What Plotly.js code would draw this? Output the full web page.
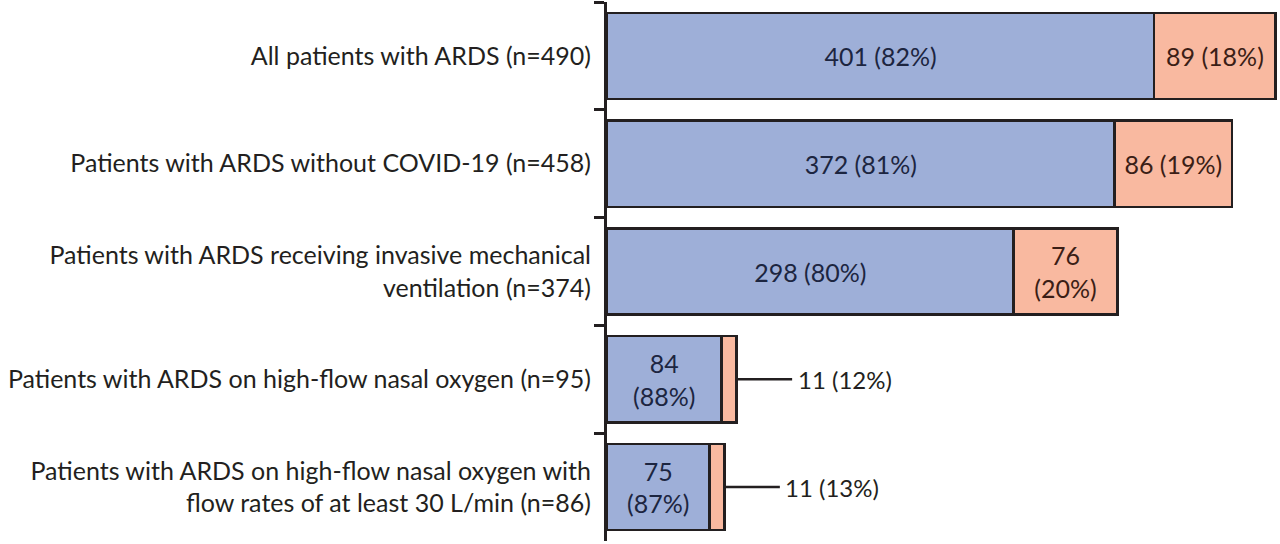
<!DOCTYPE html>
<html>
<head>
<meta charset="utf-8">
<script src="https://cdn.plot.ly/plotly-3.0.1.min.js"></script>
<style>
  html, body { margin: 0; padding: 0; background: #fff; }
  #myDiv { width: 1280px; height: 544px; }
</style>
</head>
<body>
<div id="myDiv"></div>
<script>
var groups = [
  'All patients with ARDS (n=490)',
  'Patients with ARDS without COVID-19 (n=458)',
  'Patients with ARDS receiving invasive mechanical<br>ventilation (n=374)',
  'Patients with ARDS on high-flow nasal oxygen (n=95)',
  'Patients with ARDS on high-flow nasal oxygen with<br>flow rates of at least 30 L/min (n=86)'
];
var countA = [401, 372, 298, 84, 75];
var pctA = [82, 81, 80, 88, 87];
var countB = [89, 86, 76, 11, 11];
var pctB = [18, 19, 20, 12, 13];

// labels: narrow bars get two lines, tiny ones go outside with a leader
var textA = countA.map(function (c, i) {
  return c + (c < 150 ? '<br>' : ' ') + '(' + pctA[i] + '%)';
});
var textB = countB.map(function (c, i) {
  if (c < 30) return '';
  return c + (c < 80 ? '<br>' : ' ') + '(' + pctB[i] + '%)';
});

var trace1 = {
  type: 'bar',
  orientation: 'h',
  y: groups,
  x: countA,
  text: textA,
  textposition: 'inside',
  insidetextanchor: 'middle',
  textangle: 0,
  insidetextfont: {size: 25, color: '#1c2540', family: 'Lato, sans-serif'},
  marker: {color: '#9eafd8', line: {color: '#231f20', width: 2.5}},
  hoverinfo: 'none'
};

var trace2 = {
  type: 'bar',
  orientation: 'h',
  y: groups,
  x: countB,
  text: textB,
  textposition: 'inside',
  insidetextanchor: 'middle',
  textangle: 0,
  insidetextfont: {size: 25, color: '#3b1e16', family: 'Lato, sans-serif'},
  marker: {color: '#f9b9a0', line: {color: '#231f20', width: 2.5}},
  hoverinfo: 'none'
};

var annotations = [];
countB.forEach(function (c, i) {
  if (c >= 30) return;
  annotations.push({
    x: countA[i] + c,
    y: groups[i],
    xref: 'x',
    yref: 'y',
    text: c + ' (' + pctB[i] + '%)',
    showarrow: true,
    arrowhead: 0,
    arrowwidth: 2.5,
    arrowcolor: '#231f20',
    borderpad: 5,
    ax: 108,
    ay: 0,
    font: {size: 24, color: '#231f20', family: 'Lato, sans-serif'}
  });
});

var layout = {
  width: 1280,
  height: 544,
  barmode: 'stack',
  bargap: 0.2,
  showlegend: false,
  margin: {l: 607, r: 3, t: 2, b: 3},
  paper_bgcolor: '#ffffff',
  plot_bgcolor: '#ffffff',
  font: {family: 'Lato, sans-serif', color: '#231f20'},
  xaxis: {
    range: [0, 491],
    visible: false,
    fixedrange: true
  },
  yaxis: {
    autorange: 'reversed',
    type: 'category',
    showline: true,
    linecolor: '#231f20',
    linewidth: 3,
    ticks: 'outside',
    tickson: 'boundaries',
    ticklen: 10,
    tickwidth: 3,
    tickcolor: '#231f20',
    ticklabelstandoff: 8,
    showgrid: false,
    zeroline: false,
    tickfont: {size: 25, color: '#231f20', family: 'Lato, sans-serif'},
    fixedrange: true
  },
  annotations: annotations
};

Plotly.newPlot('myDiv', [trace1, trace2], layout, {displayModeBar: false, staticPlot: true});
</script>
</body>
</html>
